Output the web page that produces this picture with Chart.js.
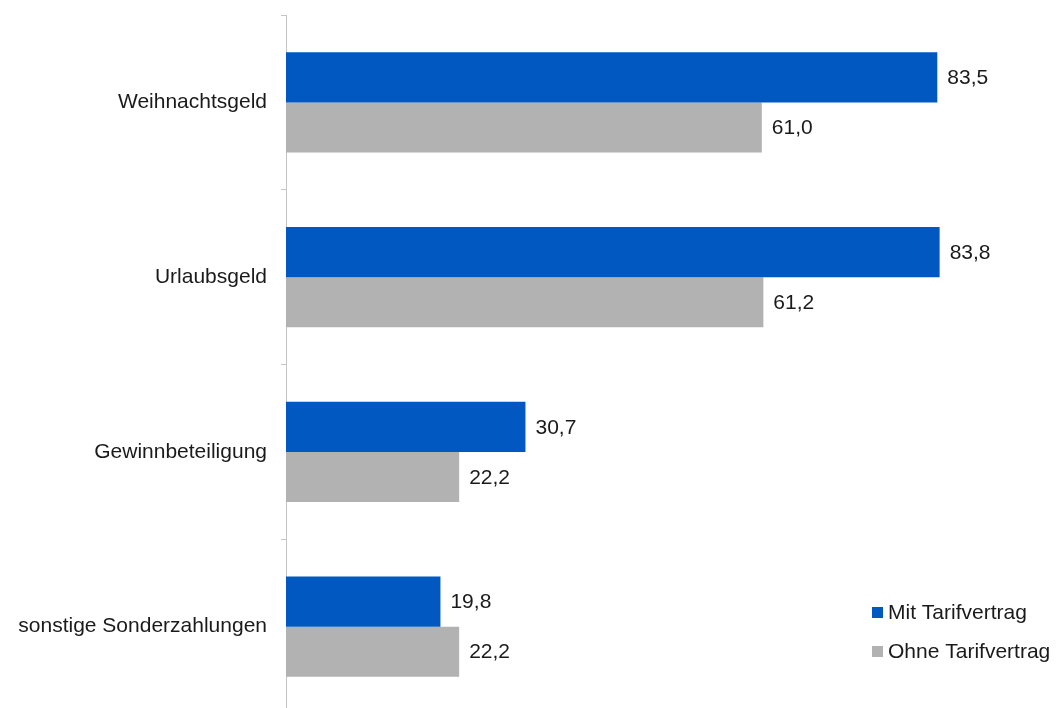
<!DOCTYPE html>
<html>
<head>
<meta charset="utf-8">
<script src="https://cdn.jsdelivr.net/npm/chart.js@4/dist/chart.umd.min.js"></script>
<style>
  html, body { margin: 0; padding: 0; background: #fff; overflow: hidden; }
  #wrap { width: 1058px; height: 714px; position: relative; }
</style>
</head>
<body>
<div id="wrap"><canvas id="chart"></canvas></div>
<script>
// chart data
const categories = ["Weihnachtsgeld", "Urlaubsgeld", "Gewinnbeteiligung", "sonstige Sonderzahlungen"];
const mitTarif = [83.5, 83.8, 30.7, 19.8];
const ohneTarif = [61.0, 61.2, 22.2, 22.2];
const seriesNames = ["Mit Tarifvertrag", "Ohne Tarifvertrag"];
const seriesColors = ["#0058C0", "#B2B2B2"];

const FONT = "'Liberation Sans', Arial, sans-serif";

// value labels right of each bar, german decimal comma
const valueLabels = {
  id: "valueLabels",
  afterDatasetsDraw(chart) {
    const ctx = chart.ctx;
    ctx.save();
    ctx.font = "21px " + FONT;
    ctx.fillStyle = "#1a1a1a";
    ctx.textAlign = "left";
    ctx.textBaseline = "middle";
    chart.data.datasets.forEach((ds, i) => {
      chart.getDatasetMeta(i).data.forEach((bar, j) => {
        ctx.fillText(ds.data[j].toFixed(1).replace(".", ","), bar.x + 10, bar.y + 1);
      });
    });
    ctx.restore();
  }
};

// small legend in the lower right corner
const cornerLegend = {
  id: "cornerLegend",
  afterDraw(chart) {
    const ctx = chart.ctx;
    ctx.save();
    ctx.font = "21px " + FONT;
    ctx.textBaseline = "middle";
    chart.data.datasets.forEach((ds, i) => {
      const y = 612 + i * 39;
      ctx.fillStyle = ds.backgroundColor;
      ctx.fillRect(872, y - 5, 11, 11);
      ctx.fillStyle = "#1a1a1a";
      ctx.fillText(ds.label, 888, y + 1);
    });
    ctx.restore();
  }
};

new Chart(document.getElementById("chart").getContext("2d"), {
  type: "bar",
  data: {
    labels: categories,
    datasets: [
      { label: seriesNames[0], data: mitTarif, backgroundColor: seriesColors[0] },
      { label: seriesNames[1], data: ohneTarif, backgroundColor: seriesColors[1] }
    ]
  },
  options: {
    indexAxis: "y",
    responsive: true,
    maintainAspectRatio: false,
    animation: false,
    layout: { padding: { top: 15, right: 31, bottom: 0, left: 0 } },
    datasets: {
      bar: { categoryPercentage: 0.5725, barPercentage: 1.0 }
    },
    plugins: {
      legend: { display: false },
      tooltip: { enabled: false }
    },
    scales: {
      x: {
        display: false,
        min: 0,
        max: 95
      },
      y: {
        afterFit(scale) {
          scale.width = 286;
          scale.paddingTop = 0;
          scale.paddingBottom = 0;
        },
        border: { display: true, color: "#C4C4C4", width: 1 },
        grid: {
          offset: true,
          drawOnChartArea: false,
          drawTicks: true,
          tickLength: 5,
          color: "#C4C4C4"
        },
        ticks: {
          padding: 14,
          color: "#1a1a1a",
          font: { family: FONT, size: 21 }
        }
      }
    }
  },
  plugins: [valueLabels, cornerLegend]
});
</script>
</body>
</html>
